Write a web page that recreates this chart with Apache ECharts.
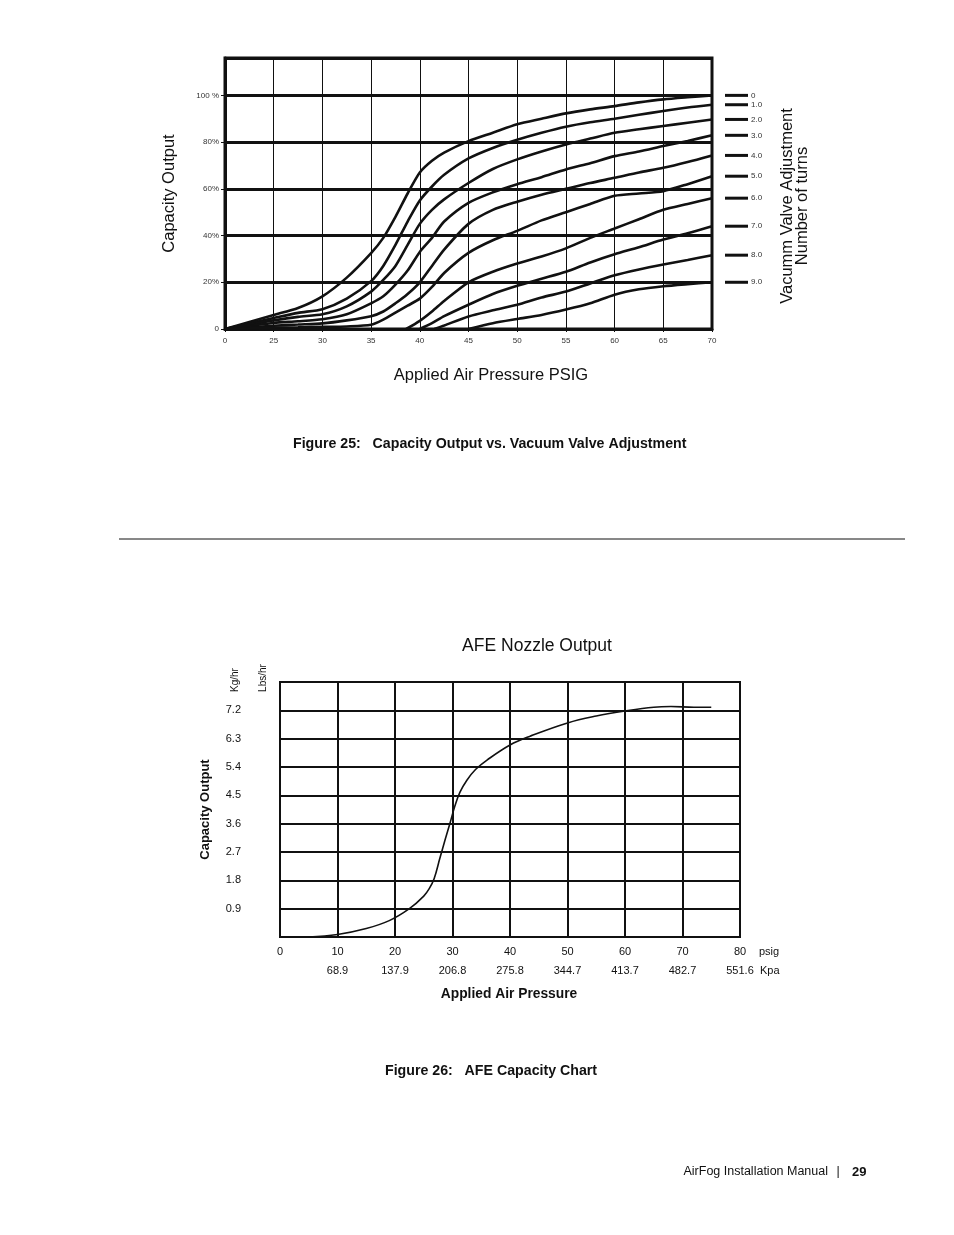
<!DOCTYPE html>
<html>
<head>
<meta charset="utf-8">
<script src="https://cdn.jsdelivr.net/npm/echarts@6/dist/echarts.min.js"></script>
<style>
html,body{margin:0;padding:0;background:#fff;}
#c{width:954px;height:1235px;}
</style>
</head>
<body>
<div id="c"></div>
<script>
// ---------- Figure 25 data ----------
var fig25TickLabels = ['0','25','30','35','40','45','50','55','60','65','70'];
var fig25Pressure = [0,12.5,25,27.5,30,32.5,35,36.25,37.5,38.75,40,41.25,42.5,45,47.5,50,52.5,55,57.5,60,62.5,65,67.5,70];
var turnsNames = ['0','1.0','2.0','3.0','4.0','5.0','6.0','7.0','8.0','9.0'];
var curveStart = [0,0,0,0,0,0,38.6,40,41.5,45];
var turns0 = [0,3,6,9,14,22,32.5,39,48,58,67,72,75.5,80.4,84,87.6,90,92.3,94,95.4,97,98.3,99.2,100];
var turns1 = [0,2.4,4.7,6.9,8.5,13,20.5,27,36,46,55,61,66,73,77.5,81,84,86.6,88.5,90,91.7,93.3,94.8,96];
var turns2 = [0,1.9,3.7,5.2,6.3,9.7,16,21,27,36,45,51,55.5,62.5,68.5,72.6,76,79,81.5,84,85.5,86.9,88.3,89.7];
var turns3 = [0,1.3,2.6,3.3,4.2,6.3,11,14,19,25,33,39,46,54,58.5,62,65,68.3,71,74,76,78.3,80.5,82.9];
var turns4 = [0,0.7,1.4,1.9,2.4,3.7,5.5,7.5,11,15,20,27,34,45,51,54.5,57.5,60,62.5,64.7,67,69,71.5,74.3];
var turns5 = [0,0.3,0.6,0.7,0.9,1.1,1.8,4,7,10,13,18,24,32.6,38,42,46.5,50,53.5,57,58,59,62,65.4];
var turns6 = [null,null,null,null,null,null,null,null,null,null,3.5,7.5,12,20,24.5,28,31,34.5,39,43,47,51,53.5,56];
var turns7 = [null,null,null,null,null,null,null,null,null,null,0,2.5,5.5,10.4,15,18.5,21.5,24.5,28.5,32,35,38.3,41,44];
var turns8 = [null,null,null,null,null,null,null,null,null,null,null,null,1.5,5.4,8,10.4,13.5,16,19.5,23,25.5,27.6,29.5,31.6];
var turns9 = [null,null,null,null,null,null,null,null,null,null,null,null,null,0,2.5,4.3,6,8.3,11,14.7,17,18.3,19.2,20];
var turnsValues = [turns0,turns1,turns2,turns3,turns4,turns5,turns6,turns7,turns8,turns9];
var fig25YMax = 116;

// ---------- Figure 26 data ----------
var psigTicks = ['0','10','20','30','40','50','60','70','80'];
var kpaTicks = ['','68.9','137.9','206.8','275.8','344.7','413.7','482.7','551.6'];
var nozzlePsig = [5,10,15,19,22.5,25,26,26.8,27.8,28.7,29.6,30.4,31.3,32.5,34,36,40,43.5,50,55,60,65,68,72,75];
var nozzleOutput = [0,0.08,0.27,0.52,0.9,1.3,1.55,1.85,2.5,3.08,3.64,4.15,4.6,4.98,5.32,5.62,6.1,6.38,6.8,7.02,7.18,7.3,7.32,7.3,7.3];

// pressure -> position on the non-linear Figure 25 axis (0..25 squeezed into first step)
function pIndex(p){ return p < 25 ? p/25 : 1 + (p-25)/5; }

var FONT = "'Liberation Sans', Arial, sans-serif";

var series = [];
turnsValues.forEach(function(vals, k){
  var data = [];
  if (curveStart[k] > 0) data.push([pIndex(curveStart[k]), 0]);
  for (var i=0;i<fig25Pressure.length;i++){
    if (vals[i] === null) continue;
    if (fig25Pressure[i] < curveStart[k]) continue;
    if (curveStart[k] > 0 && fig25Pressure[i] === curveStart[k]) continue;
    data.push([pIndex(fig25Pressure[i]), vals[i]]);
  }
  series.push({
    name: turnsNames[k], type:'line', xAxisIndex:0, yAxisIndex:0,
    data:data, symbol:'none', smooth:0.25, clip:false,
    lineStyle:{color:'#111', width:2.6},
    endLabel:{show:true, distance:13,
      formatter:function(p){ return '{d|}{t|' + p.seriesName + '}'; },
      rich:{d:{width:23,height:3,backgroundColor:'#111'},
            t:{fontSize:8,color:'#333',fontFamily:FONT,padding:[0,0,0,3]}}}
  });
});
series.push({
  name:'AFE', type:'line', xAxisIndex:1, yAxisIndex:1,
  data: nozzlePsig.map(function(p,i){ return [p, nozzleOutput[i]]; }),
  symbol:'none', smooth:0.4, lineStyle:{color:'#111', width:1.6}
});

var chart = echarts.init(document.getElementById('c'), null, {renderer:'canvas'});
chart.setOption({
  animation:false,
  backgroundColor:'#fff',
  textStyle:{fontFamily:FONT},
  grid:[
    {left:225, top:58, width:487, height:271, show:true, borderColor:'#111', borderWidth:3, backgroundColor:'#fff'},
    {left:280, top:682, width:460, height:255, show:true, borderColor:'#111', borderWidth:2, backgroundColor:'#fff'}
  ],
  xAxis:[
    {type:'value', gridIndex:0, min:0, max:10, interval:1,
     axisLine:{lineStyle:{color:'#111', width:3}},
     axisTick:{show:true, length:3, lineStyle:{color:'#111'}},
     axisLabel:{fontSize:8, color:'#333', margin:8, formatter:function(v){ return fig25TickLabels[Math.round(v)]; }},
     splitLine:{show:true, lineStyle:{color:'#111', width:1}}},
    {type:'value', gridIndex:1, min:0, max:80, interval:10,
     axisLine:{lineStyle:{color:'#111', width:2}},
     axisTick:{show:false},
     axisLabel:{fontSize:11, color:'#111', margin:9, formatter:function(v){ return psigTicks[Math.round(v/10)]; }},
     splitLine:{show:true, lineStyle:{color:'#111', width:2}}},
    {type:'value', gridIndex:1, min:0, max:80, interval:10, position:'bottom', offset:20,
     axisLine:{show:false}, axisTick:{show:false}, splitLine:{show:false},
     axisLabel:{fontSize:11, color:'#111', margin:8, formatter:function(v){ return kpaTicks[Math.round(v/10)]; }}}
  ],
  yAxis:[
    {type:'value', gridIndex:0, min:0, max:fig25YMax, interval:20,
     name:'Capacity Output', nameLocation:'middle', nameGap:47,
     nameTextStyle:{fontSize:16.5, color:'#111', fontFamily:FONT},
     axisLine:{lineStyle:{color:'#111', width:3}},
     axisTick:{show:true, length:4, lineStyle:{color:'#111'}},
     axisLabel:{fontSize:8, color:'#333', margin:6, showMaxLabel:false,
       formatter:function(v){ if (v===0) return '0'; if (v===100) return '100 %'; if (v>100) return ''; return v+'%'; }},
     splitLine:{show:true, lineStyle:{color:'#111', width:3}}},
    {type:'value', gridIndex:1, min:0, max:8.1, interval:0.9,
     name:'Capacity Output', nameLocation:'middle', nameGap:68,
     nameTextStyle:{fontSize:13, fontWeight:'bold', color:'#111', fontFamily:FONT},
     axisLine:{lineStyle:{color:'#111', width:2}},
     axisTick:{show:false},
     axisLabel:{fontSize:11, color:'#111', margin:39,
       formatter:function(v){ if (v < 0.05 || v > 8.0) return ''; return v.toFixed(1); }},
     splitLine:{show:true, lineStyle:{color:'#111', width:2}}}
  ],
  series:series,
  graphic:[
    {type:'text', x:491, y:375,
     style:{text:'Applied Air Pressure PSIG', fontSize:16.5, fontFamily:FONT, fill:'#111', align:'center', verticalAlign:'middle'}},
    {type:'text', x:795, y:206, rotation:Math.PI/2,
     style:{text:'Vacumm Valve Adjustment\nNumber of turns', fontSize:16.5, fontFamily:FONT, fill:'#111',
            align:'center', verticalAlign:'middle', lineHeight:15}},
    {type:'text', x:293, y:444,
     style:{text:'Figure 25:   Capacity Output vs. Vacuum Valve Adjustment', fontSize:14.2, fontWeight:'bold',
            fontFamily:FONT, fill:'#111', align:'left', verticalAlign:'middle'}},
    {type:'line', shape:{x1:119, y1:539, x2:905, y2:539}, style:{stroke:'#111', lineWidth:1}},
    {type:'text', x:537, y:646,
     style:{text:'AFE Nozzle Output', fontSize:17.5, fontFamily:FONT, fill:'#111', align:'center', verticalAlign:'middle'}},
    {type:'text', x:235, y:680, rotation:Math.PI/2,
     style:{text:'Kg/hr', fontSize:10, fontFamily:FONT, fill:'#111', align:'center', verticalAlign:'middle'}},
    {type:'text', x:263, y:678, rotation:Math.PI/2,
     style:{text:'Lbs/hr', fontSize:10, fontFamily:FONT, fill:'#111', align:'center', verticalAlign:'middle'}},
    {type:'text', x:759, y:952,
     style:{text:'psig', fontSize:11, fontFamily:FONT, fill:'#111', align:'left', verticalAlign:'middle'}},
    {type:'text', x:760, y:971,
     style:{text:'Kpa', fontSize:11, fontFamily:FONT, fill:'#111', align:'left', verticalAlign:'middle'}},
    {type:'text', x:509, y:994,
     style:{text:'Applied Air Pressure', fontSize:13.8, fontWeight:'bold', fontFamily:FONT, fill:'#111', align:'center', verticalAlign:'middle'}},
    {type:'text', x:385, y:1071,
     style:{text:'Figure 26:   AFE Capacity Chart', fontSize:14.2, fontWeight:'bold',
            fontFamily:FONT, fill:'#111', align:'left', verticalAlign:'middle'}},
    {type:'text', x:828, y:1172,
     style:{text:'AirFog Installation Manual', fontSize:12.5, fontFamily:FONT, fill:'#111', align:'right', verticalAlign:'middle'}},
    {type:'text', x:838, y:1172,
     style:{text:'|', fontSize:12.5, fontFamily:FONT, fill:'#111', align:'center', verticalAlign:'middle'}},
    {type:'text', x:852, y:1172,
     style:{text:'29', fontSize:13, fontWeight:'bold', fontFamily:FONT, fill:'#111', align:'left', verticalAlign:'middle'}}
  ]
});
</script>
</body>
</html>
